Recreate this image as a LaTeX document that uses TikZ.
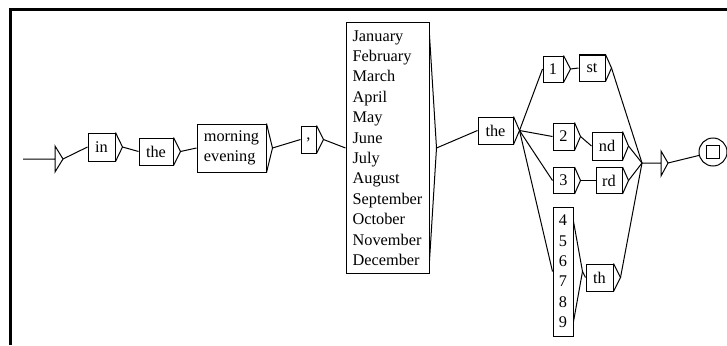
\documentclass[tikz,border=0pt]{standalone}
\usepackage{fontspec}
\setmainfont{Liberation Serif}

\begin{document}
\begin{tikzpicture}[x=1pt, y=-1pt, line width=1pt,
    box/.style={draw, inner sep=0pt, align=left, font=\fontsize{16.3}{20.4}\selectfont}]
  \useasboundingbox (0,0) rectangle (727,345);
  \draw[line width=3.2pt] (10.4,345) -- (10.4,9.3) -- (727,9.3);

  \node[box, minimum width=27, minimum height=28] (in) at (101.5,147) {in};
  \node[box, minimum width=34, minimum height=27] (the) at (156,151.5) {the};
  \node[box, minimum width=69, minimum height=48] (morning) at (231.5,148) {morning\\evening};
  \node[box, minimum width=15, minimum height=27] (comma) at (308.5,139.5) {,};
  \node[box, minimum width=83, minimum height=250] (months) at (387.5,148)
    {January\\February\\March\\April\\May\\June\\July\\August\\September\\October\\November\\December};
  \node[box, minimum width=35, minimum height=27] (theb) at (495.5,130.5) {the};
  \node[box, minimum width=20, minimum height=26] (one) at (553,69) {1};
  \node[box, minimum width=26, minimum height=26] (st) at (592,68) {st};
  \node[box, minimum width=21, minimum height=27] (two) at (563.5,136.5) {2};
  \node[box, minimum width=30, minimum height=28] (nd) at (607,146) {nd};
  \node[box, minimum width=21, minimum height=26] (three) at (563.5,180.5) {3};
  \node[box, minimum width=26, minimum height=26] (rd) at (609,180.5) {rd};
  \node[box, minimum width=20, minimum height=129] (nums) at (563,271.5) {4\\5\\6\\7\\8\\9};
  \node[box, minimum width=27, minimum height=27] (th) at (599.5,277.5) {th};
  \node[draw, circle, inner sep=0pt, minimum size=28] (final) at (713,152) {};
  \node[draw, inner sep=0pt, minimum size=13] (finalsq) at (final.center) {};

  \foreach \b/\d/\o in {in/7/0,the/7/0,morning/6/0,comma/7/0,months/7/13,theb/6/0,one/7/0,st/6/0,two/6/0,nd/6/0,three/6/0,rd/6/0,nums/9/15,th/7/0}
    \draw ([yshift=-\o pt]\b.north east) -- ([xshift=\d pt]\b.east) coordinate (\b-tip) -- ([yshift=\o pt]\b.south east);

  \coordinate (entry) at (23,159);
  \coordinate (init) at (55,159);
  \draw (entry) -- (init) ++(0,-13) -- ++(8,13) coordinate (init-tip) -- ++(-8,13) -- cycle;
  \coordinate (join) at (642,163);
  \coordinate (fin) at (661,163);
  \draw (join) -- (fin) ++(0,-12) -- ++(7,12) coordinate (fin-tip) -- ++(-7,13) -- cycle;

  \draw (init-tip) -- (in.west);
  \draw (in-tip) -- (the.west);
  \draw (the-tip) -- (morning.west);
  \draw (morning-tip) -- (comma.west);
  \draw (comma-tip) -- (months.west);
  \draw (months-tip) -- (theb.west);
  \draw (theb-tip) -- (one.west);
  \draw (theb-tip) -- (two.west);
  \draw (theb-tip) -- (three.west);
  \draw (theb-tip) -- (nums.west);
  \draw (one-tip) -- (st.west);
  \draw (two-tip) -- (nd.west);
  \draw (three-tip) -- (rd.west);
  \draw (nums-tip) -- (th.west);
  \draw (st-tip) -- (join);
  \draw (nd-tip) -- (join);
  \draw (rd-tip) -- (join);
  \draw (th-tip) -- (join);
  \draw (fin-tip) -- (final);
\end{tikzpicture}
\end{document}
